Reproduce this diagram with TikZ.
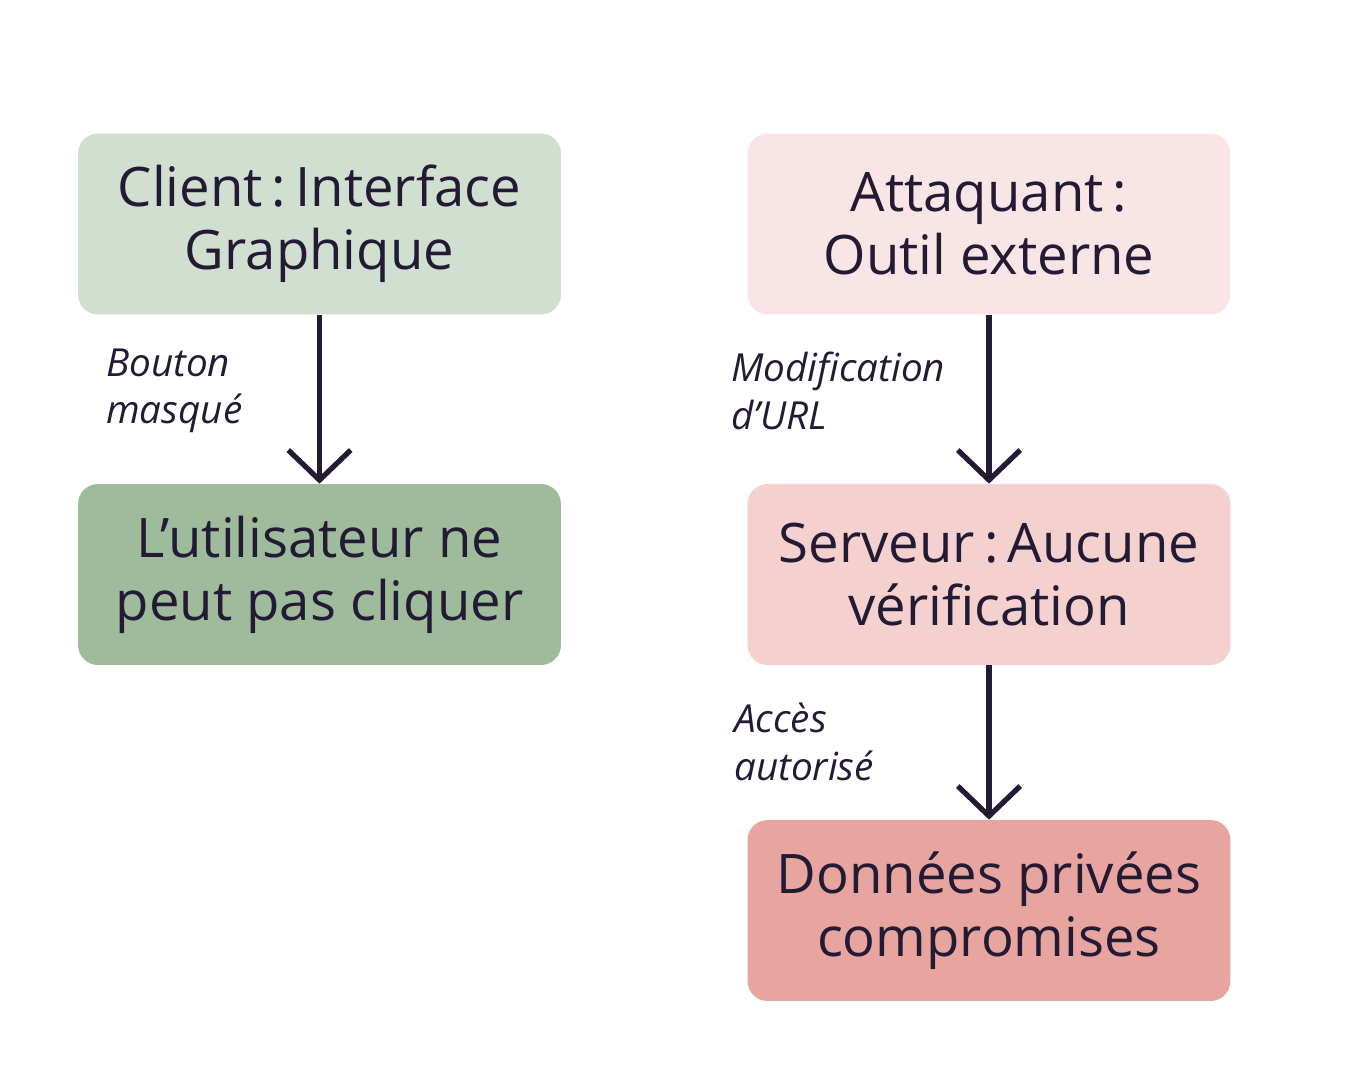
\documentclass[tikz,border=0pt]{standalone}
\usepackage{fontspec}
\setmainfont{Open Sans}
\usetikzlibrary{arrows.meta}
\definecolor{ink}{HTML}{231A33}
\definecolor{g1}{HTML}{D0DFD0}
\definecolor{g2}{HTML}{9EBB9C}
\definecolor{p1}{HTML}{F9E5E5}
\definecolor{p2}{HTML}{F4D0CE}
\definecolor{p3}{HTML}{E8A49E}
\begin{document}
\begin{tikzpicture}[x=0.02cm,y=-0.02cm,
 box/.style={draw=none,rounded corners=0.4cm,minimum width=9.66cm,minimum height=3.62cm,align=center,text=ink,font=\fontsize{31}{36}\selectfont},
 lab/.style={anchor=west,align=left,text=ink,font=\fontsize{22}{27}\selectfont\itshape},
 arr/.style={draw=ink,line width=3pt,-{Straight Barb[length=0.6cm,width=1.25cm,line width=3pt]}}]
\useasboundingbox (0,0) rectangle (1350,1080);
\node[box,fill=g1] (a) at (319.5,224) {Client\,:\,Interface\\Graphique};
\node[box,fill=g2] (b) at (319.5,574.5) {L’utilisateur ne\\peut pas cliquer};
\node[box,fill=p1] (c) at (989,224) {Attaquant\,:\\Outil externe};
\node[box,fill=p2] (d) at (989,574.5) {Serveur\,:\,Aucune\\vérification};
\node[box,fill=p3] (e) at (989,910.5) {Données privées\\compromises};
\draw[arr] (a.south) -- (b.north);
\draw[arr] (c.south) -- (d.north);
\draw[arr] (d.south) -- (e.north);
\node[lab] (l1) at (100,391) {Bouton\\masqué};
\node[lab] (l2) at (725,391) {Modification\\d’URL};
\node[lab] (l3) at (728,742) {Accès\\autorisé};
\end{tikzpicture}
\end{document}
